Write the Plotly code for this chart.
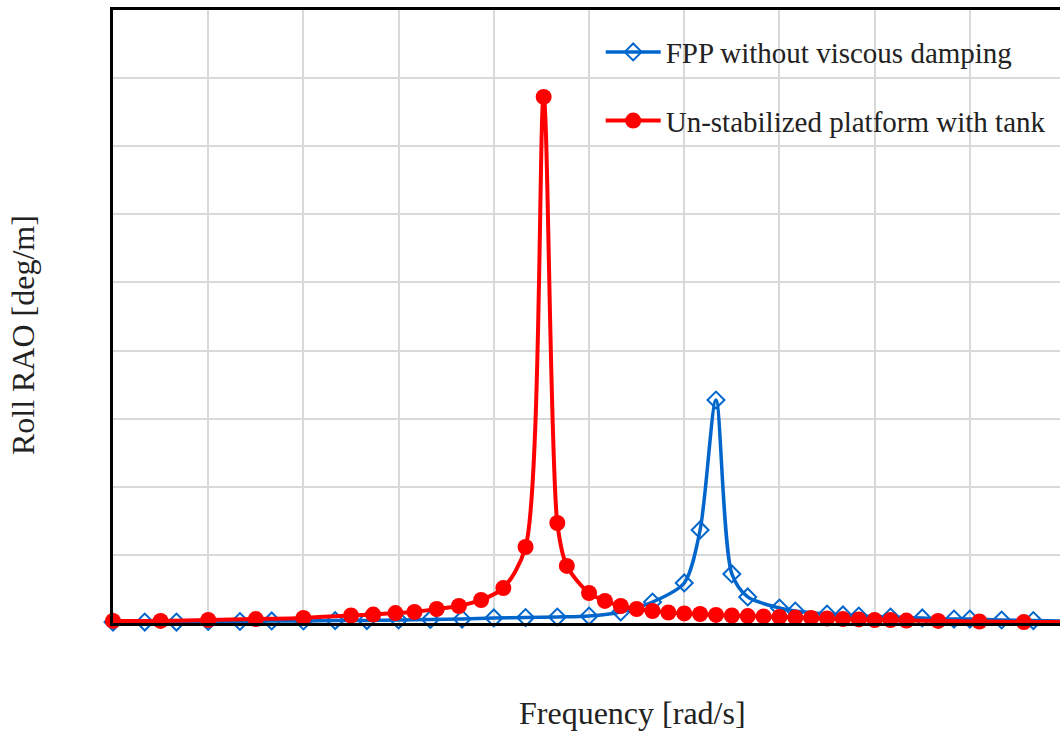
import plotly.graph_objects as go

# Frequency [rad/s] and Roll RAO [deg/m] values
freq_fpp = [0.0, 0.1, 0.2, 0.3, 0.4, 0.5, 0.6, 0.7, 0.8, 0.9, 1.0, 1.1, 1.2, 1.3, 1.4,
            1.5, 1.6, 1.7, 1.8, 1.85, 1.9, 1.95, 2.0, 2.1, 2.15, 2.25, 2.3, 2.35,
            2.45, 2.55, 2.65, 2.7, 2.8, 2.9, 3.0]
rao_fpp = [0.007, 0.007, 0.007, 0.011, 0.011, 0.015, 0.015, 0.018, 0.018, 0.022, 0.026,
           0.029, 0.037, 0.040, 0.044, 0.051, 0.081, 0.154, 0.294, 0.683, 1.637, 0.360,
           0.191, 0.110, 0.088, 0.066, 0.059, 0.051, 0.044, 0.037, 0.029, 0.029, 0.022,
           0.018, 0.015]

freq_tank = [0.0, 0.15, 0.3, 0.45, 0.6, 0.75, 0.82, 0.89, 0.95, 1.02, 1.09, 1.16, 1.23,
             1.30, 1.357, 1.40, 1.43, 1.50, 1.55, 1.60, 1.65, 1.70, 1.75, 1.80, 1.85,
             1.90, 1.95, 2.0, 2.05, 2.10, 2.15, 2.20, 2.25, 2.30, 2.35, 2.40, 2.45,
             2.50, 2.60, 2.73, 2.87, 2.985]
rao_tank = [0.015, 0.015, 0.022, 0.029, 0.037, 0.055, 0.062, 0.073, 0.081, 0.103, 0.125,
            0.169, 0.257, 0.558, 3.862, 0.734, 0.419, 0.220, 0.162, 0.125, 0.103, 0.088,
            0.077, 0.070, 0.066, 0.059, 0.055, 0.051, 0.048, 0.044, 0.040, 0.037, 0.033,
            0.029, 0.026, 0.022, 0.022, 0.018, 0.015, 0.011, 0.007, 0.007]

name_fpp = "FPP without viscous damping"
name_tank = "Un-stabilized platform with tank"
x_title = "Frequency [rad/s]"
y_title = "Roll RAO [deg/m]"

FONT = "Liberation Serif"
FS = 29
FS_T = 32

fig = go.Figure()
fig.add_trace(go.Scatter(
    x=freq_fpp, y=rao_fpp, name=name_fpp, mode="lines+markers",
    line=dict(color="#0066CC", width=3.5, shape="spline", smoothing=0.8),
    marker=dict(symbol="diamond-open", size=13, color="#0066CC", line=dict(width=2)),
    cliponaxis=False, legendgroup="a"))
fig.add_trace(go.Scatter(
    x=freq_tank, y=rao_tank, name=name_tank, mode="lines+markers",
    line=dict(color="#FF0000", width=4, shape="spline", smoothing=0.8),
    marker=dict(symbol="circle", size=16, color="#FF0000"),
    cliponaxis=False, legendgroup="b"))

fig.update_layout(
    width=1060, height=731,
    margin=dict(l=113, r=0, t=10, b=108),
    paper_bgcolor="white", plot_bgcolor="white",
    font=dict(family=FONT, size=FS, color="#222222"),
    showlegend=True,
    legend=dict(x=0.515, y=0.973, xanchor="left", yanchor="top",
                bgcolor="rgba(0,0,0,0)", tracegroupgap=28, itemwidth=55,
                font=dict(family=FONT, size=FS, color="#222222")),
    xaxis=dict(range=[0, 2.984], dtick=0.3, tick0=0, showticklabels=False,
               ticks="", showgrid=True, gridcolor="#D9D9D9", gridwidth=2,
               zeroline=False, showline=True, linecolor="black", linewidth=2.5,
               mirror=True),
    yaxis=dict(range=[0, 4.5], dtick=0.5, tick0=0, showticklabels=False,
               ticks="", showgrid=True, gridcolor="#D9D9D9", gridwidth=2,
               zeroline=False, showline=True, linecolor="black", linewidth=2.5),
    annotations=[
        dict(text=x_title, xref="paper", yref="paper", x=(632 - 112) / 948,
             y=-90 / 613, xanchor="center", yanchor="middle", showarrow=False,
             font=dict(family=FONT, size=FS_T, color="#222222")),
        dict(text=y_title, xref="paper", yref="paper", x=-90 / 948,
             y=(623 - 335) / 613, xanchor="center", yanchor="middle", textangle=-90,
             showarrow=False, font=dict(family=FONT, size=FS_T, color="#222222")),
    ],
)

fig.write_html("out.html", config={"displayModeBar": False},
               post_script="document.body.style.margin='0';document.body.style.overflow='hidden';")
